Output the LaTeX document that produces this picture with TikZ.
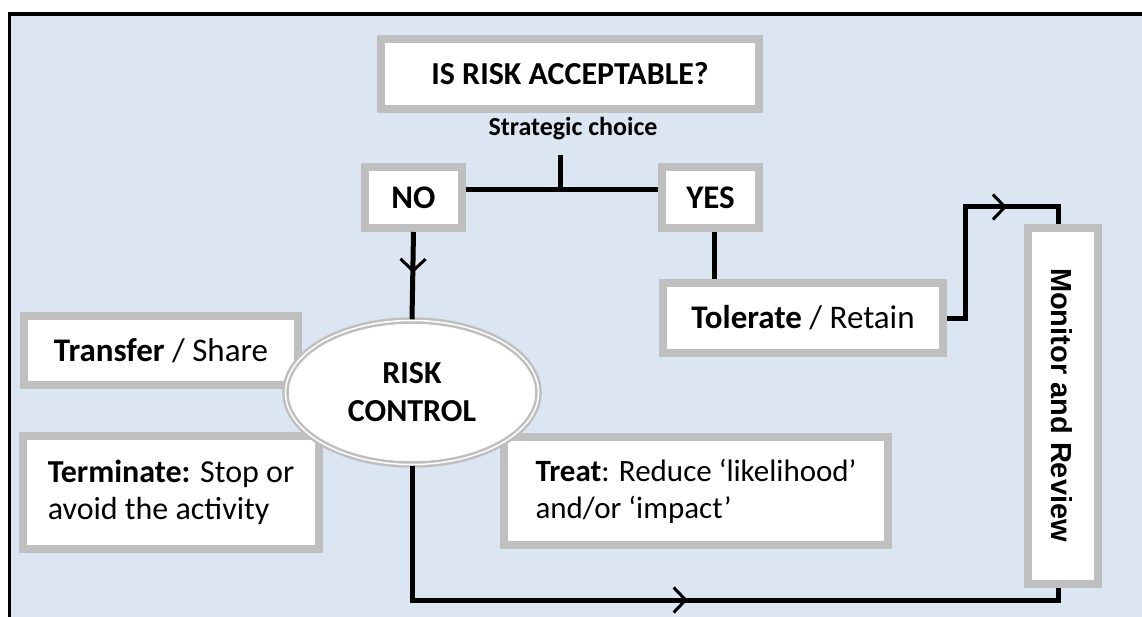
\documentclass[tikz,border=0pt]{standalone}
\usepackage{fontspec}
\setmainfont{Carlito}
\newfontfamily\arialfont{Liberation Sans}
\usetikzlibrary{arrows.meta,shapes.geometric,decorations.markings}
\definecolor{bgblue}{HTML}{DCE6F2}
\definecolor{boxgray}{HTML}{BFBFBF}
\begin{document}
\begin{tikzpicture}[x=1pt,y=-1pt,
  graybox/.style={draw=boxgray,line width=8pt,fill=white,inner sep=0pt},
  txt/.style={font=\fontsize{33}{37}\selectfont},
  conn/.style={line width=5pt},
  midarrow/.style={postaction={decorate},decoration={markings,mark=at position #1 with {\arrow{Straight Barb[length=12pt,width=25pt,line width=3pt]}}}}
]
\fill[white] (0,0) rectangle (1142,617);
\useasboundingbox (0,0) rectangle (1142,617);
\begin{scope}
\clip (0,0) rectangle (1142,617);
\draw[line width=3.5pt, fill=bgblue] (9.5,14) rectangle (1200,700);
\end{scope}

% boxes
\node[graybox, minimum width=378pt, minimum height=70pt, font=\bfseries\fontsize{32}{37}\selectfont] (q) at (570,74) {IS RISK ACCEPTABLE?};
\node[font=\bfseries\fontsize{26}{30}\selectfont] (sc) at (573,129) {Strategic choice};
\node[graybox, txt, minimum width=97pt, minimum height=61pt] (no) at (413.5,197.5) {\textbf{NO}};
\node[graybox, txt, minimum width=97pt, minimum height=61pt] (yes) at (710.5,197.5) {\textbf{YES}};
\node[graybox, txt, minimum width=280pt, minimum height=70pt] (tol) at (803,318) {\textbf{Tolerate} / Retain};
\node[graybox, minimum width=70pt, minimum height=356pt] (mon) at (1063,406) {};
\node[rotate=-90, font=\arialfont\bfseries\fontsize{29}{34}\selectfont] (montext) at (1062,405) {Monitor and Review};
\node[graybox, txt, minimum width=274pt, minimum height=69pt] (tr) at (161,350.5) {\textbf{Transfer} / Share};
\node[graybox, font=\fontsize{32}{37}\selectfont, minimum width=296pt, minimum height=113pt, align=left] (te) at (171,492.5) {\textbf{Terminate:} Stop or\\avoid the activity};
\node[graybox, font=\fontsize{31}{37}\selectfont, minimum width=384pt, minimum height=108pt, align=left] (tt) at (696,491) {\textbf{Treat}: Reduce ‘likelihood’\\and/or ‘impact’};
\node[ellipse, draw=boxgray, line width=2.5pt, double=white, double distance=1.5pt, fill=white,
      minimum width=253pt, minimum height=144pt, inner sep=0pt, align=center,
      font=\bfseries\fontsize{32}{38}\selectfont] (rc) at (412,392.5) {RISK\\CONTROL};

% connectors
\coordinate (jt) at (560,155);
\coordinate (j) at (560,190);
\coordinate (c1) at (965,207);
\coordinate (c2) at (1058,207);
\coordinate (c3) at (412,600);
\draw[conn] (no.east |- j) -- (yes.west |- j);
\draw[conn] (jt) -- (j);
\draw[conn, midarrow=41pt] (no.south) -- (rc.north);
\draw[conn] ([xshift=3.5pt]yes.south) -- ([xshift=3.5pt]yes.south |- tol.north);
\draw[conn, midarrow=171pt] (tol.east) -| (c1) -- (c2) -- (c2 |- mon.north);
\draw[conn, midarrow=410pt] (rc.south) -- (c3) -- (c3 -| c2) -- (c2 |- mon.south);
\end{tikzpicture}
\end{document}
